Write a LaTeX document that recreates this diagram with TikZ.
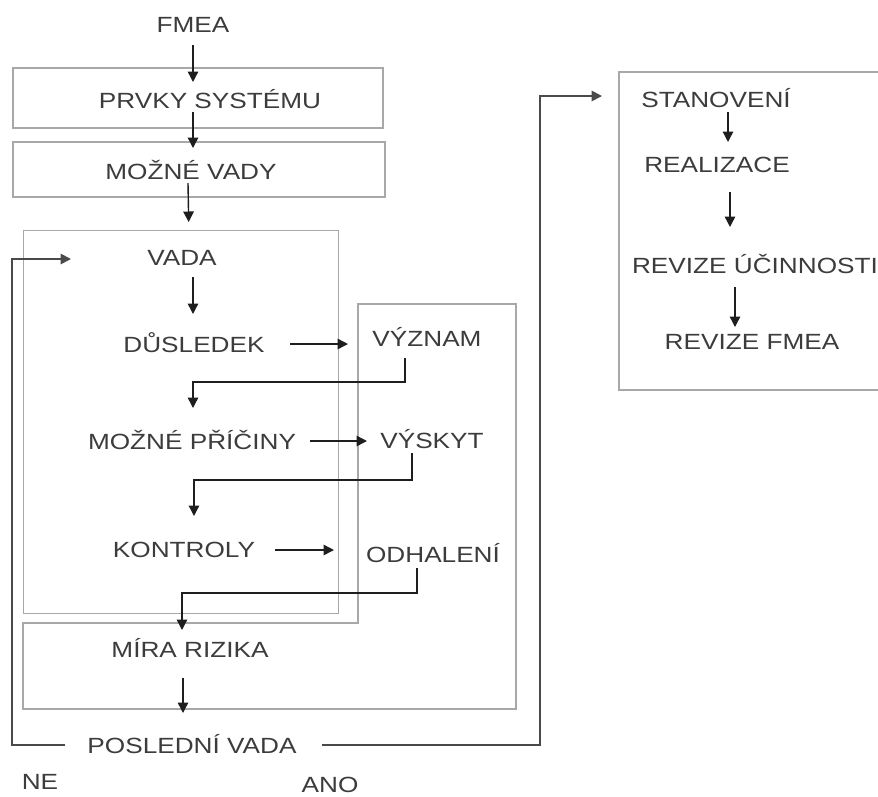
\documentclass[tikz,border=0pt]{standalone}
\usepackage{fontspec}
\setmainfont{Liberation Sans}[FakeStretch=1.19]
\usetikzlibrary{arrows.meta,calc}
\definecolor{txtgray}{HTML}{3C3C3C}
\definecolor{boxgray}{HTML}{A8A8A8}
\definecolor{arrgray}{HTML}{1E1E1E}
\definecolor{loopgray}{HTML}{4A4A4A}
\tikzset{
  lbl/.style={font=\fontsize{22}{24}\selectfont, text=txtgray, inner sep=0pt},
  grp/.style={draw=boxgray, line width=1.4pt},
  arr/.style={draw=arrgray, line width=1.4pt, -{Triangle[length=10.5pt,width=10.5pt]}},
  looparr/.style={draw=loopgray, line width=1.8pt, -{Triangle[length=10.5pt,width=10.5pt]}},
}
\begin{document}
\begin{tikzpicture}[x=1pt,y=-1pt]
\useasboundingbox[fill=white] (0,0) rectangle (878,796);

% grouping frames
\draw[grp] (13,68) rectangle (383,128);
\draw[grp] (13,142) rectangle (385,197);
\node[grp, minimum width=315pt, minimum height=383pt, anchor=north west, inner sep=0pt] (gA) at (23,230) {};
\draw[grp] (358,304) -- (516,304) -- (516,709) -- (23,709) -- (23,623) -- (358,623) -- cycle;
\draw[grp] (878,72) -- (619,72) -- (619,390) -- (878,390);

% labels
\node[lbl] (fmea)   at (193,25)  {FMEA};
\node[lbl] (prvky)  at (210,99)  {PRVKY SYSTÉMU};
\node[lbl] (mvady)  at (191,170) {MOŽNÉ VADY};
\node[lbl] (vada)   at (182,258) {VADA};
\node[lbl] (dusl)   at (194,343) {DŮSLEDEK};
\node[lbl] (vyznam) at (427,337) {VÝZNAM};
\node[lbl] (pric)   at (192,440) {MOŽNÉ PŘÍČINY};
\node[lbl] (vyskyt) at (432,439) {VÝSKYT};
\node[lbl] (kontr)  at (184,550) {KONTROLY};
\node[lbl] (odhal)  at (433,553) {ODHALENÍ};
\node[lbl] (mira)   at (190,648) {MÍRA RIZIKA};
\node[lbl] (posl)   at (192,744) {POSLEDNÍ VADA};
\node[lbl] (ne)     at (40,782)  {NE};
\node[lbl] (ano)    at (330,785) {ANO};
\node[lbl] (stan)   at (716,98)  {STANOVENÍ};
\node[lbl] (real)   at (717,165) {REALIZACE};
\node[lbl] (revu)   at (755,264) {REVIZE ÚČINNOSTI};
\node[lbl] (revf)   at (752,342) {REVIZE FMEA};

% main flow
\draw[arr] ($(fmea)+(0,20)$) -- ($(prvky)+(-17,-17)$);
\draw[arr] ($(prvky)+(-17,13)$) -- ($(mvady)+(2,-22)$);
\draw[arr] ($(mvady)+(-3,13)$) -- ($(gA.north)+(7.5,-8)$);
\draw[arr] ($(vada)+(11,19)$) -- ($(dusl)+(-1,-29)$);
\draw[arr] ($(dusl)+(96,1)$) -- ($(vyznam)+(-79,7)$);
\draw[arr] ($(vyznam)+(-22,21)$) |- ($(pric)+(1,-58)$) -- ($(pric)+(1,-32)$);
\draw[arr] ($(pric)+(118,1)$) -- ($(vyskyt)+(-65,2)$);
\draw[arr] ($(vyskyt)+(-20,14)$) |- ($(kontr)+(10,-70)$) -- ($(kontr)+(10,-34)$);
\draw[arr] ($(kontr)+(91,0)$) -- ($(odhal)+(-99,-3)$);
\draw[arr] ($(odhal)+(-16,15)$) |- ($(mira)+(-8,-55)$) -- ($(mira)+(-8,-18)$);
\draw[arr] ($(mira)+(-7,30)$) -- ($(posl)+(-9,-31)$);

% decision loops
\draw[looparr] ($(posl)+(-127,1)$) -- ++(-53,0) |- ($(vada)+(-111,1)$);
\draw[looparr] ($(posl)+(130,1)$) -- ++(218,0) |- ($(stan)+(-114,-2)$);

% corrective actions
\draw[arr] ($(stan)+(12,14)$) -- ($(real)+(11,-23)$);
\draw[arr] ($(real)+(13,27)$) -- ($(revu)+(-25,-37)$);
\draw[arr] ($(revu)+(-20,23)$) -- ($(revf)+(-17,-15)$);
\end{tikzpicture}
\end{document}
